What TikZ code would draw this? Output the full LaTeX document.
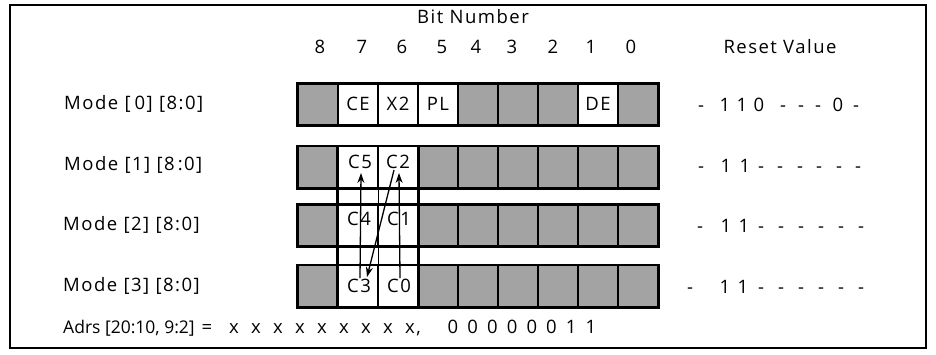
\documentclass[tikz,border=0pt]{standalone}
\usepackage{fontspec}
\setmainfont{Open Sans}[LetterSpace=8]
\usetikzlibrary{arrows.meta}
\begin{document}
\begin{tikzpicture}[x=1pt,y=-1pt,
  txt/.style={font=\fontsize{18.5}{21}\selectfont, inner sep=1pt},
  shcell/.style={draw=black, line width=1.4pt, fill=black!36, minimum width=40pt, minimum height=41pt, inner sep=0pt},
  wcell/.style={draw=black, line width=1.4pt, fill=white, minimum width=40pt, minimum height=41pt, inner sep=0pt},
  rowline/.style={line width=2.6pt, line join=miter},
  arr/.style={line width=1.3pt, -{Stealth[length=10pt,width=7pt]}},
]
\useasboundingbox (0,0) rectangle (936,354);
\draw[line width=1.2pt] (10,5) rectangle (926,348);

% header
\node[txt] (title) at (473,17) {Bit Number};
\foreach \b/\x in {8/320,7/362,6/402,5/442,4/476,3/512,2/553,1/591,0/631}
  \node[txt] (bn\b) at (\x,47) {\b};
\node[txt] (reset) at (780,47) {Reset Value};

% registers
\foreach \r/\y in {0/104.5,1/167,2/225.5,3/286}{
  \foreach \b in {0,...,8}
    \node[shcell] (r\r b\b) at ({318+(8-\b)*40},\y) {};
}
\foreach \r/\b in {0/7,0/6,0/5,0/1,1/7,1/6,2/7,2/6,3/7,3/6}
  \node[wcell] (w\r b\b) at (r\r b\b) {};
\foreach \r in {0,...,3}
  \draw[rowline] (r\r b8.north west) rectangle (r\r b0.south east);
\draw[rowline] (r1b7.north west) rectangle (r3b6.south east);
\draw[line width=1.4pt] (r1b7.north east) -- (r3b7.south east);

% cell labels
\node[txt] (tCE) at (358,104) {CE};
\node[txt] (tX2) at (398,104) {X2};
\node[txt] (tPL) at (438,104) {PL};
\node[txt] (tDE) at (598,104) {DE};
\node[txt] (tC5) at (360,162) {C5};
\node[txt] (tC2) at (398,162) {C2};
\node[txt] (tC4) at (359,219) {C4};
\node[txt] (tC1) at (399,219) {C1};
\node[txt] (tC3) at (359,286) {C3};
\node[txt] (tC0) at (399,286) {C0};

% arrows
\draw[arr] ([xshift=1pt]tC3.north) -- ([xshift=1pt,yshift=-3pt]tC5.south);
\draw[arr] ([xshift=1pt]tC0.north) -- ([xshift=1pt,yshift=-3pt]tC2.south);
\draw[arr] ([xshift=-4pt]tC2.south) -- ([xshift=8pt,yshift=1pt]tC3.north);

% row labels
\node[txt, anchor=west] (m0) at (63,104) {Mode [\kern4pt 0] [8:0]};
\node[txt, anchor=west] (m1) at (63,165) {Mode [1] [8\,:0]};
\node[txt, anchor=west] (m2) at (62,225) {Mode [2] [8:0]};
\node[txt, anchor=west] (m3) at (62,286) {Mode [3] [8:0]};

% reset values
\tikzset{rv/.style={txt, anchor=base}}
\foreach \x/\c [count=\i] in {701/-,725/1,742/1,759/0,783/-,801/-,818/-,838/0,856/-}
  \node[rv] (rv0-\i) at (\x,111) {\c};
\foreach \x/\c [count=\i] in {701/-,726/1,745/1,761/-,780/-,800/-,819/-,839/-,858/-}
  \node[rv] (rv1-\i) at (\x,172) {\c};
\foreach \x/\c [count=\i] in {700/-,726/1,744/1,761/-,781/-,801/-,821/-,841/-,861/-}
  \node[rv] (rv2-\i) at (\x,232) {\c};
\foreach \x/\c [count=\i] in {690/-,725/1,743/1,761/-,781/-,801/-,821/-,841/-,861/-}
  \node[rv] (rv3-\i) at (\x,293) {\c};

% address line
\node[txt, anchor=base west, font=\fontsize{17.5}{21}\selectfont\addfontfeature{LetterSpace=0}] (adrs) at (62,333) {Adrs [20:10, 9:2]};
\node[txt, anchor=base] (aeq) at (207,333) {=};
\foreach \i in {0,...,7}
  \node[txt, anchor=base] (ax\i) at ({234+22*\i},333) {x};
\node[txt, anchor=base west] (ax8) at (404,333) {x,};
\foreach \c [count=\i] in {0,0,0,0,0,0,1,1}
  \node[txt, anchor=base] (ab\i) at ({453+19.7*(\i-1)},333) {\c};
\end{tikzpicture}
\end{document}
